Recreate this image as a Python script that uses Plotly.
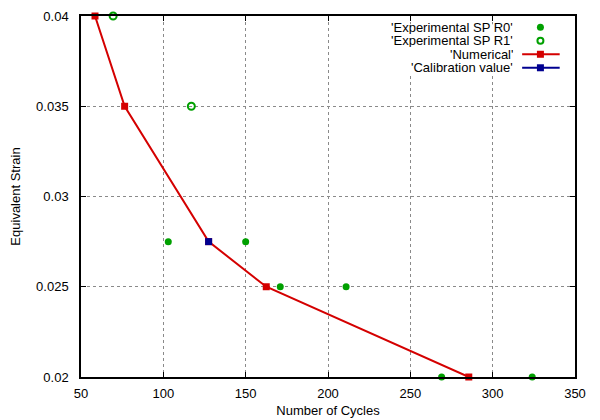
import plotly.graph_objects as go

# data
r0_cycles = [103, 150, 171, 211, 269, 324]
r0_strain = [0.0275, 0.0275, 0.025, 0.025, 0.02, 0.02]

r1_cycles = [69.5, 117]
r1_strain = [0.04, 0.035]

num_cycles = [58.5, 76.5, 127.5, 162.5, 285.5]
num_strain = [0.04, 0.035, 0.0275, 0.025, 0.02]

calib_cycles = [127.5]
calib_strain = [0.0275]

x_ticks = [50, 100, 150, 200, 250, 300, 350]
y_ticks = [0.02, 0.025, 0.03, 0.035, 0.04]
y_labels = ["0.02", "0.025", "0.03", "0.035", "0.04"]

legend_names = ["'Experimental SP R0'", "'Experimental SP R1'", "'Numerical'", "'Calibration value'"]

RED = "#d40000"
GREEN = "#00a000"
BLUE = "#000090"
FONT = "Liberation Sans"

fig = go.Figure()
fig.add_trace(go.Scatter(x=num_cycles, y=num_strain, mode="lines+markers",
                         line=dict(color=RED, width=2),
                         marker=dict(symbol="square", size=7, color=RED),
                         cliponaxis=False, showlegend=False))
fig.add_trace(go.Scatter(x=calib_cycles, y=calib_strain, mode="markers",
                         marker=dict(symbol="square", size=7, color=BLUE),
                         cliponaxis=False, showlegend=False))
fig.add_trace(go.Scatter(x=r0_cycles, y=r0_strain, mode="markers",
                         marker=dict(symbol="circle", size=7, color=GREEN),
                         cliponaxis=False, showlegend=False))
fig.add_trace(go.Scatter(x=r1_cycles, y=r1_strain, mode="markers",
                         marker=dict(symbol="circle-open", size=7, color=GREEN,
                                     line=dict(width=2, color=GREEN)),
                         cliponaxis=False, showlegend=False))

# gnuplot style key: text right aligned, sample on the right, grid hidden behind it
rows_y = [0.9687, 0.9314, 0.894, 0.8566]
fig.add_shape(type="rect", xref="paper", yref="paper", x0=0.62, x1=0.985, y0=0.835, y1=0.977,
              fillcolor="white", line=dict(width=0), layer="above")

mx = 0.930
legend_shapes = []
# R0 sample: filled dot
legend_shapes.append(dict(type="circle", xanchor=mx, yanchor=rows_y[0], x0=-3.5, x1=3.5,
                          y0=-3.5, y1=3.5, fillcolor=GREEN, line=dict(color=GREEN, width=0)))
# R1 sample: open circle
legend_shapes.append(dict(type="circle", xanchor=mx, yanchor=rows_y[1], x0=-3, x1=3,
                          y0=-3, y1=3, fillcolor="white", line=dict(color=GREEN, width=2)))
for ry, col in [(rows_y[2], RED), (rows_y[3], BLUE)]:
    fig.add_shape(type="line", xref="paper", yref="paper", x0=0.893, x1=0.969, y0=ry, y1=ry,
                  line=dict(color=col, width=2), layer="above")
    legend_shapes.append(dict(type="rect", xanchor=mx, yanchor=ry, x0=-3.5, x1=3.5,
                              y0=-3.5, y1=3.5, fillcolor=col, line=dict(color=col, width=0)))
for s in legend_shapes:
    fig.add_shape(xref="paper", yref="paper", xsizemode="pixel", ysizemode="pixel",
                  layer="above", **s)

for name, ry in zip(legend_names, rows_y):
    fig.add_annotation(x=0.8777, y=ry, xref="paper", yref="paper", height=13, valign="middle",
                       text=name, showarrow=False, xanchor="right", yanchor="middle",
                       font=dict(family=FONT, size=13, color="black"))

axis_common = dict(showline=True, linecolor="black", linewidth=1.5, mirror="allticks",
                   ticks="inside", ticklen=5, tickcolor="black", tickwidth=1,
                   showgrid=True, gridcolor="#8a8a8a", gridwidth=1, griddash="dot",
                   zeroline=False, tickfont=dict(family=FONT, size=13, color="black"))

fig.update_xaxes(range=[50, 350], tickvals=x_ticks, ticklabelstandoff=4,
                 title=dict(text="Number of Cycles", standoff=6,
                            font=dict(family=FONT, size=13, color="black")),
                 **axis_common)
fig.update_yaxes(range=[0.02, 0.04], tickvals=y_ticks, ticktext=y_labels, ticklabelstandoff=8,
                 title=dict(text="Equivalent Strain", standoff=18,
                            font=dict(family=FONT, size=13, color="black")),
                 **axis_common)

# page body has an 8px margin, so the figure is a bit smaller than the window
fig.update_layout(width=592, height=412, plot_bgcolor="white", paper_bgcolor="white",
                  margin=dict(l=73, r=25, t=8, b=43, autoexpand=False),
                  font=dict(family=FONT, size=13, color="black"))

fig.write_html("out.html")
